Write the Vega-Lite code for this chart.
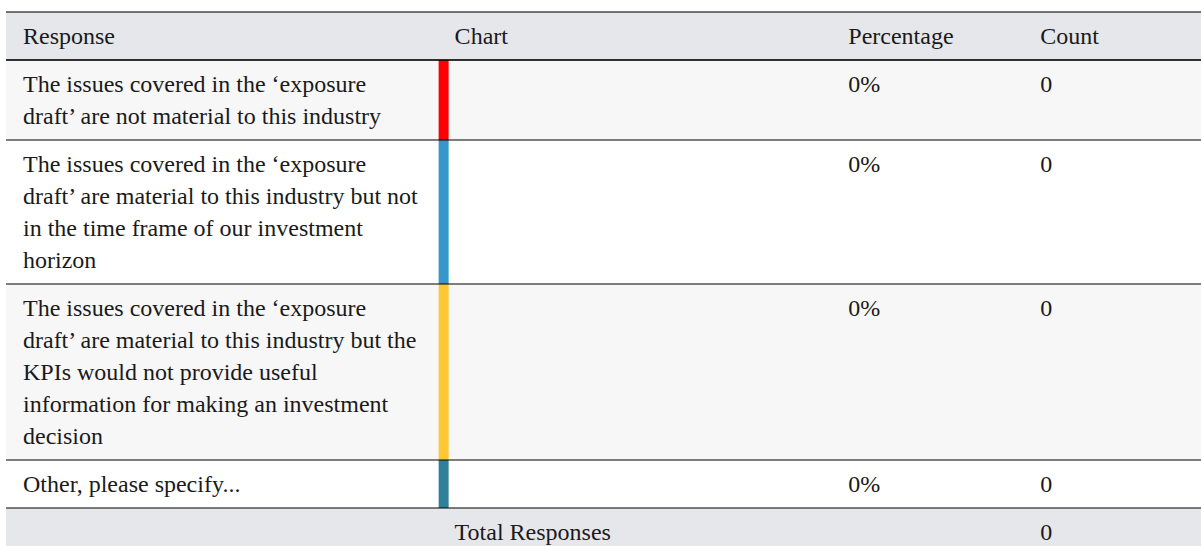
{
  "$schema": "https://vega.github.io/schema/vega-lite/v6.json",
  "width": 1202,
  "height": 546,
  "autosize": {"type": "fit", "contains": "padding"},
  "padding": 0,
  "background": "#ffffff",
  "config": {"view": {"stroke": null}, "text": {"font": "Liberation Serif, Times New Roman, DejaVu Serif, serif"}},
  "data": {
    "values": [
      {"response": ["The issues covered in the ‘exposure", "draft’ are not material to this industry"], "pct": 0, "count": 0},
      {"response": ["The issues covered in the ‘exposure", "draft’ are material to this industry but not", "in the time frame of our investment", "horizon"], "pct": 0, "count": 0},
      {"response": ["The issues covered in the ‘exposure", "draft’ are material to this industry but the", "KPIs would not provide useful", "information for making an investment", "decision"], "pct": 0, "count": 0},
      {"response": ["Other, please specify..."], "pct": 0, "count": 0}
    ]
  },
  "transform": [
    {"calculate": "length(datum.response)", "as": "n"},
    {"window": [{"op": "row_number", "as": "idx"}, {"op": "sum", "field": "n", "as": "cum"}]},
    {"calculate": "60 + (datum.cum - datum.n) * 32 + (datum.idx - 1) * 16", "as": "top"},
    {"calculate": "datum.top + datum.n * 32 + 16", "as": "bottom"},
    {"calculate": "datum.top + 32", "as": "ty"}
  ],
  "encoding": {
    "x": {"type": "quantitative", "scale": {"domain": [0, 1202], "nice": false, "zero": false}, "axis": null},
    "y": {"type": "quantitative", "scale": {"domain": [0, 546], "nice": false, "zero": false, "reverse": true}, "axis": null}
  },
  "layer": [
    {
      "transform": [{"filter": "datum.idx === 1"}],
      "mark": {"type": "rect", "color": "#e6e7eb"},
      "encoding": {"x": {"datum": 6}, "x2": {"datum": 1202}, "y": {"datum": 12}, "y2": {"datum": 60}}
    },
    {
      "mark": {"type": "rect"},
      "encoding": {
        "x": {"datum": 6}, "x2": {"datum": 1202},
        "y": {"field": "top", "type": "quantitative"}, "y2": {"field": "bottom"},
        "color": {"condition": {"test": "datum.idx % 2 === 1", "value": "#f7f7f7"}, "value": "#ffffff"}
      }
    },
    {
      "mark": {"type": "rect"},
      "encoding": {
        "x": {"datum": 439}, "x2": {"datum": 449},
        "y": {"field": "top", "type": "quantitative"}, "y2": {"field": "bottom"},
        "color": {"field": "idx", "type": "ordinal", "legend": null, "scale": {"domain": [1, 2, 3, 4], "range": ["#ff0000", "#3598cb", "#fec832", "#2f8099"]}}
      }
    },
    {
      "transform": [{"aggregate": [{"op": "sum", "field": "count", "as": "total"}, {"op": "max", "field": "bottom", "as": "fb"}]}, {"calculate": "datum.fb + 32", "as": "fty"}],
      "layer": [
        {
          "mark": {"type": "rect", "color": "#e6e7eb"},
          "encoding": {"x": {"datum": 6}, "x2": {"datum": 1202}, "y": {"field": "fb", "type": "quantitative"}, "y2": {"datum": 546}}
        },
        {
          "mark": {"type": "text", "align": "left", "baseline": "alphabetic", "fontSize": 24, "color": "#1a1a1a"},
          "encoding": {"x": {"datum": 455}, "y": {"field": "fty", "type": "quantitative"}, "text": {"value": "Total Responses"}}
        },
        {
          "mark": {"type": "text", "align": "left", "baseline": "alphabetic", "fontSize": 24, "color": "#1a1a1a"},
          "encoding": {"x": {"datum": 1041}, "y": {"field": "fty", "type": "quantitative"}, "text": {"field": "total", "type": "quantitative", "format": "d"}}
        }
      ]
    },
    {
      "mark": {"type": "rule", "color": "#000000", "opacity": 0.5, "strokeWidth": 2},
      "encoding": {"x": {"datum": 6}, "x2": {"datum": 1202}, "y": {"field": "bottom", "type": "quantitative"}}
    },
    {
      "transform": [{"filter": "datum.idx === 1"}],
      "layer": [
        {
          "mark": {"type": "rule", "color": "#000000", "opacity": 0.53, "strokeWidth": 2},
          "encoding": {"x": {"datum": 6}, "x2": {"datum": 1202}, "y": {"datum": 12}}
        },
        {
          "mark": {"type": "rule", "color": "#000000", "opacity": 0.8, "strokeWidth": 2},
          "encoding": {"x": {"datum": 6}, "x2": {"datum": 1202}, "y": {"datum": 60}}
        },
        {
          "mark": {"type": "text", "align": "left", "baseline": "alphabetic", "fontSize": 24, "color": "#1a1a1a"},
          "encoding": {"x": {"datum": 23}, "y": {"datum": 44}, "text": {"value": "Response"}}
        },
        {
          "mark": {"type": "text", "align": "left", "baseline": "alphabetic", "fontSize": 24, "color": "#1a1a1a"},
          "encoding": {"x": {"datum": 455}, "y": {"datum": 44}, "text": {"value": "Chart"}}
        },
        {
          "mark": {"type": "text", "align": "left", "baseline": "alphabetic", "fontSize": 24, "color": "#1a1a1a"},
          "encoding": {"x": {"datum": 849}, "y": {"datum": 44}, "text": {"value": "Percentage"}}
        },
        {
          "mark": {"type": "text", "align": "left", "baseline": "alphabetic", "fontSize": 24, "color": "#1a1a1a"},
          "encoding": {"x": {"datum": 1041}, "y": {"datum": 44}, "text": {"value": "Count"}}
        }
      ]
    },
    {
      "mark": {"type": "text", "align": "left", "baseline": "alphabetic", "fontSize": 24, "lineHeight": 32, "color": "#1a1a1a"},
      "encoding": {"x": {"datum": 23}, "y": {"field": "ty", "type": "quantitative"}, "text": {"field": "response"}}
    },
    {
      "mark": {"type": "text", "align": "left", "baseline": "alphabetic", "fontSize": 24, "color": "#1a1a1a"},
      "encoding": {"x": {"datum": 849}, "y": {"field": "ty", "type": "quantitative"}, "text": {"field": "pct", "type": "quantitative", "format": ".0%"}}
    },
    {
      "mark": {"type": "text", "align": "left", "baseline": "alphabetic", "fontSize": 24, "color": "#1a1a1a"},
      "encoding": {"x": {"datum": 1041}, "y": {"field": "ty", "type": "quantitative"}, "text": {"field": "count", "type": "quantitative", "format": "d"}}
    }
  ]
}
